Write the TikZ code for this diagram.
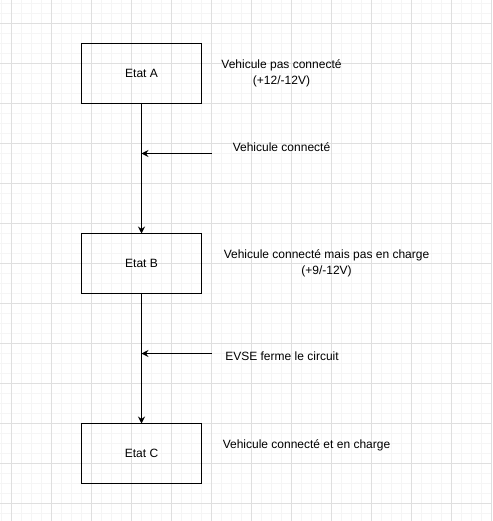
\documentclass[tikz,border=0pt]{standalone}
\usepackage{fontspec}
\setmainfont{Liberation Sans}
\usetikzlibrary{arrows.meta,positioning}
\definecolor{gridmajor}{HTML}{DFDFDF}
\definecolor{gridminor}{HTML}{F5F5F5}

\tikzset{
  etat/.style={draw,line width=1pt,minimum width=120pt,minimum height=60pt,inner sep=0pt,outer sep=0pt,font=\fontsize{12}{14}\selectfont},
  legende/.style={align=center,inner sep=0pt,font=\fontsize{12}{16.5}\selectfont},
}

\begin{document}
\begin{tikzpicture}[x=1pt,y=-1pt,>={Stealth[length=7pt,width=7pt,inset=2.5pt]}]
  \useasboundingbox (0,0) rectangle (492,521);
  % grille de fond
  \foreach \x in {1.5,11.5,...,491.5} \draw[gridminor,line width=0.8pt] (\x,0) -- (\x,521);
  \foreach \y in {3.5,13.5,...,520} \draw[gridminor,line width=0.8pt] (0,\y) -- (492,\y);
  \foreach \x in {11.5,51.5,...,491.5} \draw[gridmajor,line width=0.8pt] (\x,0) -- (\x,521);
  \foreach \y in {23.5,63.5,...,520} \draw[gridmajor,line width=0.8pt] (0,\y) -- (492,\y);
  % etats
  \node[etat] (etatA) at (141.5,73.5) {Etat A};
  \node[etat] (etatB) at (141.5,263.5) {Etat B};
  \node[etat] (etatC) at (141.5,453.5) {Etat C};
  \draw[->,line width=1pt] (etatA) -- (etatB);
  \draw[->,line width=1pt] (etatB) -- (etatC);
  % evenements
  \coordinate (srcAB) at (211.5,153.5);
  \coordinate (dstAB) at (etatA.south |- srcAB);
  \coordinate (srcBC) at (211.5,353.5);
  \coordinate (dstBC) at (etatB.south |- srcBC);
  \draw[->,line width=1pt] (srcAB) -- (dstAB);
  \draw[->,line width=1pt] (srcBC) -- (dstBC);
  % textes
  \node[legende] (txtA) at (281.5,73.5) {Vehicule pas connecté\\(+12/-12V)};
  \node[legende] (txtAB) at (281.5,147.5) {Vehicule connecté};
  \node[legende] (txtB) at (326.5,263.5) {Vehicule connecté mais pas en charge\\(+9/-12V)};
  \node[legende] (txtBC) at (282,356) {EVSE ferme le circuit};
  \node[legende] (txtC) at (306.5,445.5) {Vehicule connecté et en charge};
\end{tikzpicture}
\end{document}
